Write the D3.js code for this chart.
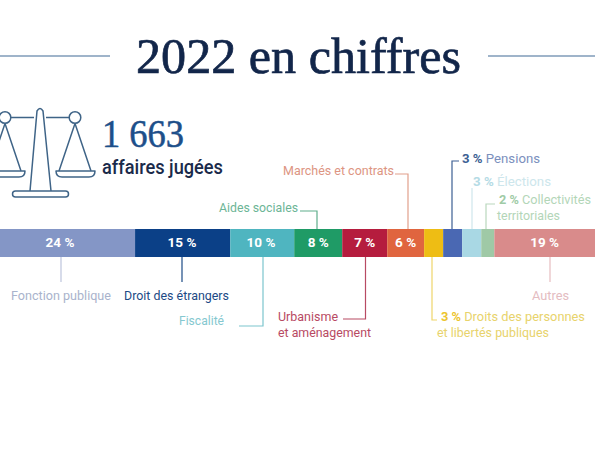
<!DOCTYPE html>
<html lang="fr"><head><meta charset="utf-8">
<script src="https://cdn.jsdelivr.net/npm/d3@7"></script>
<style>html,body{margin:0;background:#fff}svg{display:block}text{font-family:"Roboto",sans-serif}</style>
</head><body><div id="c"></div>
<script>
const categories=["Fonction publique","Droit des étrangers","Fiscalité","Aides sociales","Urbanisme et aménagement","Marchés et contrats","Droits des personnes et libertés publiques","Pensions","Élections","Collectivités territoriales","Autres"];
const percentLabels=[24,15,10,8,7,6,3,3,3,2,19];
const drawnShares=[22.7,16,10.75,8.07,7.56,6.2,3.2,3.2,3.2,2.2,16.92];
const colors=["#8496c6","#0b4087","#4fb5c0","#1f9b66","#b51c3e","#e0653f","#eebd14","#4a68b3","#a9d8e4","#9fc9a6","#d98b8b"];
const lineColors=["#bcc4dc","#1c4a85","#7cc5cd","#5fae8c","#b84a63","#e2a08c","#efd56a","#3d5f93","#cfe6ec","#b9d8bd","#e6bcc0"];
const textColors=["#a9b3cc","#1c4a85","#85c8d0","#6cb596","#b84a63","#dd9582","#e8d36c","#7b90bd","#cde6ec","#b3d6b8","#e4bcc1"];
const boldColors=["#a9b3cc","#1c4a85","#85c8d0","#6cb596","#b84a63","#dd9582","#ecc42e","#3d5f93","#b5dbe5","#a0cba6","#e4bcc1"];

const W=600,H=449,barTop=229,barH=28;
const svg=d3.select("#c").append("svg").attr("width",W).attr("height",H);
const x=d3.scaleLinear().domain([0,100]).range([0,595]);
let cum=0;
const segs=drawnShares.map((s,i)=>{const o={i,a:cum,b:cum+s};cum+=s;return o});
const mid=d=>(x(d.a)+x(d.b))/2;

// title
svg.append("g").attr("stroke","#7f9bb8").attr("stroke-width",1.4).selectAll("line")
 .data([[0,110],[488,595]]).join("line").attr("x1",d=>d[0]).attr("x2",d=>d[1]).attr("y1",56).attr("y2",56);
svg.append("text").text("2022 en chiffres").attr("x",136).attr("y",73)
 .attr("textLength",325).attr("lengthAdjust","spacingAndGlyphs")
 .style("font-family","'Liberation Serif',serif").style("font-size","50px")
 .attr("fill","#12264a").attr("stroke","#12264a").attr("stroke-width",0.7);

// balance icon
const ic=svg.append("g").attr("fill","none").attr("stroke","#3f6487").attr("stroke-width",1.5).attr("stroke-linejoin","round");
ic.append("path").attr("d","M30 191 L37 111 Q40 106 43 111 L51 191");
ic.append("rect").attr("x",12.5).attr("y",191).attr("width",56).attr("height",6).attr("rx",3);
ic.append("path").attr("d","M11 117.5H34M46 117.5H69");
[5,75].forEach(c=>{
 ic.append("circle").attr("cx",c).attr("cy",117.5).attr("r",5.8);
 ic.append("path").attr("d",`M${c} 123.5L${c-16} 171M${c} 123.5L${c+16} 171`);
 ic.append("path").attr("d",`M${c-19} 171H${c+20}Q${c+20} 177 ${c+14} 177H${c-13}Q${c-19} 177 ${c-19} 171Z`);
});
svg.append("text").text("1 663").attr("x",102).attr("y",147).attr("textLength",82).attr("lengthAdjust","spacingAndGlyphs")
 .style("font-family","'Liberation Serif',serif").style("font-size","39px")
 .attr("fill","#1d4f8a").attr("stroke","#1d4f8a").attr("stroke-width",0.5);
svg.append("text").text("affaires jugées").attr("x",102).attr("y",174).attr("textLength",121).attr("lengthAdjust","spacingAndGlyphs")
 .style("font-size","21px").style("font-weight",500).attr("fill","#1a2a4a");

// bar
svg.append("g").selectAll("rect").data(segs).join("rect")
 .attr("x",d=>x(d.a)).attr("y",barTop).attr("width",d=>x(d.b)-x(d.a)).attr("height",barH).attr("fill",d=>colors[d.i]);
svg.append("g").selectAll("text").data(segs.filter(d=>d.i<6||d.i==10)).join("text")
 .text(d=>percentLabels[d.i]+" %")
 .attr("x",d=>d.i==0?60:d.i==1?182:d.i==2?261:mid(d)).attr("y",barTop+18).attr("text-anchor","middle")
 .attr("fill","#fff").style("font-size","13.5px").style("font-weight",700);

// leaders
const barBottom=barTop+barH;
const leaders=[
 [0,61,barBottom,282,null],[1,182,barBottom,282,null],[2,263,barBottom,326,239],
 [4,365.5,barBottom,319,343],[6,432,barBottom,320,437],[10,550,barBottom,282,null],
 [3,317,barTop,211,300],[5,408,barTop,174,395],[7,452,barTop,161,459],[8,472,barTop,188,null],[9,486,barTop,204,495]];
svg.append("g").attr("fill","none").attr("stroke-width",1.2).selectAll("path").data(leaders).join("path")
 .attr("stroke",d=>lineColors[d[0]])
 .attr("d",d=>`M${d[1]} ${d[2]}V${d[3]}`+(d[4]!=null?`H${d[4]}`:""));

// labels
const lab=[
 {i:0,x:11,y:300,w:100,parts:[["Fonction publique",0]]},
 {i:1,x:124,y:300,w:105,parts:[["Droit des étrangers",0]]},
 {i:2,x:179,y:325,w:45,parts:[["Fiscalité",0]]},
 {i:3,x:219,y:212,w:79,parts:[["Aides sociales",0]]},
 {i:4,x:278,y:321,w:60,parts:[["Urbanisme",0]]},
 {i:4,x:278,y:337,w:93,parts:[["et aménagement",0]]},
 {i:5,x:283,y:175,w:111,parts:[["Marchés et contrats",0]]},
 {i:6,x:441,y:321,w:144,parts:[["3 % ",1],["Droits des personnes",0]]},
 {i:6,x:437,y:337,w:112,parts:[["et libertés publiques",0]]},
 {i:7,x:462,y:163,w:78,parts:[["3 % ",1],["Pensions",0]]},
 {i:8,x:473,y:186,w:78,parts:[["3 % ",1],["Élections",0]]},
 {i:9,x:499,y:204,w:92,parts:[["2 % ",1],["Collectivités",0]]},
 {i:9,x:497,y:220,w:63,parts:[["territoriales",0]]},
 {i:10,x:532,y:300,w:37,parts:[["Autres",0]]}];
const lt=svg.append("g").selectAll("text").data(lab).join("text")
 .attr("x",d=>d.x).attr("y",d=>d.y).attr("textLength",d=>d.w).attr("lengthAdjust","spacingAndGlyphs")
 .attr("fill",d=>textColors[d.i]).style("font-size","13.5px");
lt.selectAll("tspan").data(d=>d.parts).join("tspan").text(p=>p[0])
 .style("font-weight",p=>p[1]?700:400)
 .attr("fill",function(p){const d=d3.select(this.parentNode).datum();return p[1]?boldColors[d.i]:textColors[d.i];});
</script></body></html>
